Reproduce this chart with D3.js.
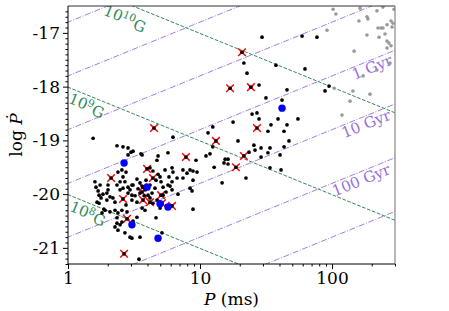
<!DOCTYPE html>
<html>
<head>
<script src="https://d3js.org/d3.v7.min.js"></script>
<style>
  body { margin: 0; background: #fff; }
  svg { display: block; }
  text { font-family: "DejaVu Serif", serif; }
</style>
</head>
<body>
<svg width="449" height="311"></svg>
<script>
// pulsars: [P (ms), log Pdot]
var blackPts = [
  [29.5,-17.08],[21.5,-17.56],[22.7,-17.75],[37.6,-17.60],[28.0,-17.97],[45.6,-18.06],[31.6,-18.21],[41.8,-18.25],
  [27.0,-18.49],[24.8,-18.51],[28.0,-18.60],[17.8,-18.66],[39.0,-18.60],[55.2,-18.60],[12.5,-18.75],[34.5,-18.71],
  [45.6,-18.71],[43.3,-18.83],[32.7,-18.83],[11.5,-18.86],[6.24,-18.94],[19.4,-19.01],[47.2,-19.01],[12.5,-19.12],
  [25.6,-19.09],[29.0,-19.14],[33.9,-19.14],[43.3,-19.12],[23.5,-19.22],[26.1,-19.18],[32.7,-19.23],[29.0,-19.31],
  [40.4,-19.27],[3.64,-19.27],[4.81,-19.29],[5.72,-19.23],[9.33,-19.37],[11.1,-19.29],[11.9,-19.25],[15.5,-19.35],
  [16.3,-19.35],[15.2,-19.42],[16.3,-19.44],[8.40,-19.55],[8.85,-19.57],[9.49,-19.59],[12.8,-19.50],[33.9,-19.51],
  [41.1,-19.55],[22.3,-19.70],[14.7,-19.79],[8.85,-20.28],[59.3,-17.06],[76.9,-17.08],[62.4,-17.67],[94.9,-17.99],
  [88.5,-18.08],
  [1.55,-18.96],[2.35,-19.10],[2.61,-19.12],[2.85,-19.14],[3.00,-19.22],[2.85,-19.27],[3.11,-19.20],[3.57,-19.25],
  [4.72,-19.37],[2.39,-19.59],[2.56,-19.55],[2.75,-19.59],[2.61,-19.68],[2.70,-19.77],[2.48,-19.77],[1.60,-19.77],
  [1.63,-19.87],[1.69,-19.94],[1.72,-20.02],[1.78,-20.07],[2.01,-19.83],[2.01,-19.92],[1.97,-19.98],[2.35,-19.83],
  [2.48,-19.92],[2.61,-19.89],[2.85,-19.87],[2.95,-19.92],[3.11,-19.83],[1.84,-20.00],[2.08,-20.05],[2.85,-19.98],
  [3.05,-20.02],[6.14,-19.51],[5.43,-19.55],[6.70,-19.70],[6.14,-19.77],[5.72,-19.83],[7.43,-19.70],[7.43,-19.55],
  [8.85,-19.74],[4.98,-19.68],[5.07,-19.77],[5.25,-19.87],[3.33,-19.72],[3.51,-19.79],[3.05,-19.83],[4.18,-19.51],
  [4.40,-19.57],[4.81,-19.63],[5.82,-19.68],[5.93,-19.85],[6.14,-19.92],[6.81,-20.00],[8.40,-19.89],[8.70,-19.94],
  [6.24,-19.59],[7.97,-19.61],[1.97,-20.11],[2.27,-20.15],[2.19,-20.07],[1.91,-20.30],[2.08,-20.33],[2.27,-20.30],
  [2.39,-20.35],[2.56,-20.30],[2.35,-20.44],[2.35,-20.54],[2.27,-20.61],[2.48,-20.57],[2.56,-20.52],[2.70,-20.72],
  [2.95,-20.80],[3.05,-20.11],[3.33,-20.15],[3.64,-20.26],[3.83,-20.30],[3.33,-20.43],[3.11,-20.50],[4.64,-20.44],
  [5.15,-20.72],[3.51,-20.80],[3.05,-20.82],[3.45,-21.21],[1.66,-20.15],[1.72,-20.17],[1.87,-20.28],[1.81,-20.35],
  [2.39,-20.67],[1.75,-19.83],
  [3.83,-19.92],[4.04,-20.02],[4.33,-19.98],[4.56,-19.89],[4.18,-20.07],[4.72,-20.11],[5.25,-20.02],[5.53,-19.96],
  [3.77,-20.03],[4.40,-20.17],[3.51,-19.98],[3.90,-19.74],[4.18,-19.83],[4.64,-19.74],[3.39,-19.90],[3.64,-19.85],
  [3.22,-20.03],[2.75,-20.20],[4.98,-20.26],[2.80,-20.33]
];
var redPts = [
  [20.8,-17.36],[16.9,-18.03],[24.3,-18.01],[4.48,-18.77],[27.0,-18.77],[13.2,-19.01],[21.5,-19.29],[7.83,-19.31],
  [18.7,-19.50],[3.97,-19.53],[2.12,-19.70],[4.40,-19.70],[3.70,-19.87],[3.64,-19.96],[5.07,-20.02],[2.61,-20.09],
  [3.70,-20.11],[4.18,-20.15],[5.15,-20.17],[6.14,-20.22],[2.80,-20.46],[2.66,-21.11]
];
var bluePts = [
  [41.8,-18.40],[2.66,-19.42],[3.97,-19.87],[4.98,-20.18],[5.72,-20.24],[3.05,-20.57],[4.81,-20.82]
];
var grayPts = [
  [102,-16.56],[107,-16.65],[163,-16.54],[184,-16.70],[187,-16.74],[160,-16.78],[219,-16.59],[243,-16.52],
  [280,-16.78],[261,-16.85],[285,-16.89],[223,-16.91],[235,-16.91],[243,-16.91],[91.6,-16.95],[184,-17.04],
  [227,-17.08],[252,-17.02],[261,-17.15],[270,-17.19],[280,-17.24],[261,-17.28],[147,-17.34],[275,-17.56],
  [219,-17.69],[172,-17.80],[104,-18.03],[144,-18.08],[194,-18.14],[137,-18.27],[119,-18.53],[295,-16.56],
  [290,-16.82]
];
var xTicks = [1, 10, 100];
var yTicks = [-17, -18, -19, -20, -21];
var fieldValues = [1e8, 1e9, 1e10];           // Gauss
var ageValues = [1e6, 1e7, 1e8, 1e9, 1e10, 1e11, 1e12]; // years
var fieldLabels = ["8", "9", "10"];
var ageLabels = ["1 Gyr", "10 Gyr", "100 Gyr"];

var pL = 68, pR = 395, pT = 6, pB = 264;
var x = d3.scaleLog().domain([1, 300]).range([pL, pR]);
var y = d3.scaleLinear().domain([-21.3, -16.5]).range([pB, pT]);

var green = "#2e8b57", purple = "#9370db";
var svg = d3.select("svg");

svg.append("clipPath").attr("id", "plot")
  .append("rect").attr("x", pL).attr("y", pT)
  .attr("width", pR - pL).attr("height", pB - pT);

// B = 3.2e19 sqrt(P Pdot), tau = P / (2 Pdot)
function fieldLine(b) { return function(p) { return 2 * Math.log10(b) - 39.01 - Math.log10(p / 1000); }; }
function ageLine(t) { return function(p) { return Math.log10(p / 1000) - Math.log10(2 * t * 3.156e7); }; }

var pRange = [0.5, 400];
var line = d3.line().x(function(d) { return x(d[0]); }).y(function(d) { return y(d[1]); });
var g = svg.append("g").attr("clip-path", "url(#plot)");

ageValues.forEach(function(t) {
  var f = ageLine(t);
  g.append("path").attr("d", line(pRange.map(function(p) { return [p, f(p)]; })))
    .attr("fill", "none").attr("stroke", purple).attr("stroke-width", 0.9)
    .attr("stroke-dasharray", "6,1.6,1,1.6");
});
fieldValues.forEach(function(b) {
  var f = fieldLine(b);
  g.append("path").attr("d", line(pRange.map(function(p) { return [p, f(p)]; })))
    .attr("fill", "none").attr("stroke", green).attr("stroke-width", 1)
    .attr("stroke-dasharray", "3.7,1.6");
});

var ang = Math.atan((y(-18) - y(-17)) / (x(10) - x(1))) * 180 / Math.PI;

// field labels
var fPos = [[1.42, 10], [1.39, 10], [2.71, 15]];
fieldValues.forEach(function(b, i) {
  var p = fPos[i][0], px = x(p), py = y(fieldLine(b)(p)) + fPos[i][1];
  var t = svg.append("text").attr("transform", "translate(" + px + "," + py + ") rotate(" + ang + ")")
    .attr("text-anchor", "middle").attr("dy", "0.35em")
    .attr("fill", green).style("font-size", "15px");
  t.append("tspan").text("10");
  t.append("tspan").attr("dy", "-0.45em").style("font-size", "10.5px").text(fieldLabels[i]);
  t.append("tspan").attr("dy", "0.45em").text("G");
});

// age labels
var aPos = [[201, 7.5], [181, 8], [166, 8.5]];
ageLabels.forEach(function(s, i) {
  var t = ageValues[3 + i], p = aPos[i][0];
  var px = x(p), py = y(ageLine(t)(p)) + aPos[i][1];
  svg.append("text").attr("transform", "translate(" + px + "," + py + ") rotate(" + (-ang) + ")")
    .attr("text-anchor", "middle").attr("dy", "0.35em")
    .attr("fill", purple).style("font-size", "15px").text(s);
});

// points
var pts = svg.append("g").attr("clip-path", "url(#plot)");
pts.selectAll(".gray").data(grayPts).enter().append("circle")
  .attr("cx", function(d) { return x(d[0]); }).attr("cy", function(d) { return y(d[1]); })
  .attr("r", 1.8).attr("fill", "#999");
pts.selectAll(".red").data(redPts).enter().append("path")
  .attr("transform", function(d) { return "translate(" + x(d[0]) + "," + y(d[1]) + ")"; })
  .attr("d", "M-3.8,-3.8L3.8,3.8M-3.8,3.8L3.8,-3.8")
  .attr("stroke", "#f00").attr("stroke-width", 1.5).attr("fill", "none");
pts.selectAll(".blk").data(blackPts.concat(redPts)).enter().append("circle")
  .attr("cx", function(d) { return x(d[0]); }).attr("cy", function(d) { return y(d[1]); })
  .attr("r", 1.85).attr("fill", "#000");
pts.selectAll(".blue").data(bluePts).enter().append("circle")
  .attr("cx", function(d) { return x(d[0]); }).attr("cy", function(d) { return y(d[1]); })
  .attr("r", 3.7).attr("fill", "#00f");

// axes
var yMinor = d3.range(-213, -165).filter(function(i) { return i % 10 !== 0; }).map(function(i) { return i / 10; });
var xMinor = [];
[1, 10, 100].forEach(function(d) { for (var k = 2; k <= 9; k++) if (d * k <= 300) xMinor.push(d * k); });

svg.append("g").attr("transform", "translate(" + pL + ",0)")
  .call(d3.axisLeft(y).tickValues(yMinor).tickSize(2.5).tickFormat(""))
  .call(function(a) { a.select(".domain").remove(); });
svg.append("g").attr("transform", "translate(0," + pB + ")")
  .call(d3.axisBottom(x).tickValues(xMinor).tickSize(2.5).tickFormat(""))
  .call(function(a) { a.select(".domain").remove(); });

svg.append("g").attr("transform", "translate(" + pL + ",0)")
  .call(d3.axisLeft(y).tickValues(yTicks).tickSize(5).tickPadding(3).tickFormat(function(d) { return String(d); }));
svg.append("g").attr("transform", "translate(0," + pB + ")")
  .call(d3.axisBottom(x).tickValues(xTicks).tickSize(5).tickPadding(3).tickFormat(function(d) { return String(d); }));
svg.selectAll(".tick text").style("font-family", "DejaVu Serif").style("font-size", "17px").attr("fill", "#000");
svg.selectAll(".domain").remove();

// spines
svg.append("line").attr("x1", pL).attr("x2", pR).attr("y1", pT).attr("y2", pT).attr("stroke", "#333");
svg.append("line").attr("x1", pR).attr("x2", pR).attr("y1", pT).attr("y2", pB).attr("stroke", "#888").attr("stroke-width", 1.2);
svg.append("line").attr("x1", pL).attr("x2", pL).attr("y1", pT).attr("y2", pB).attr("stroke", "#000");
svg.append("line").attr("x1", pL).attr("x2", pR).attr("y1", pB).attr("y2", pB).attr("stroke", "#000");

// labels
var xl = svg.append("text").attr("x", (pL + pR) / 2).attr("y", 305)
  .attr("text-anchor", "middle").style("font-size", "17px");
xl.append("tspan").style("font-style", "italic").text("P");
xl.append("tspan").text(" (ms)");

var yl = svg.append("text").attr("transform", "translate(22," + ((pT + pB) / 2) + ") rotate(-90)")
  .attr("text-anchor", "middle").style("font-size", "17px");
yl.append("tspan").text("log ");
yl.append("tspan").style("font-style", "italic").text("\u1E56");
</script>
</body>
</html>
